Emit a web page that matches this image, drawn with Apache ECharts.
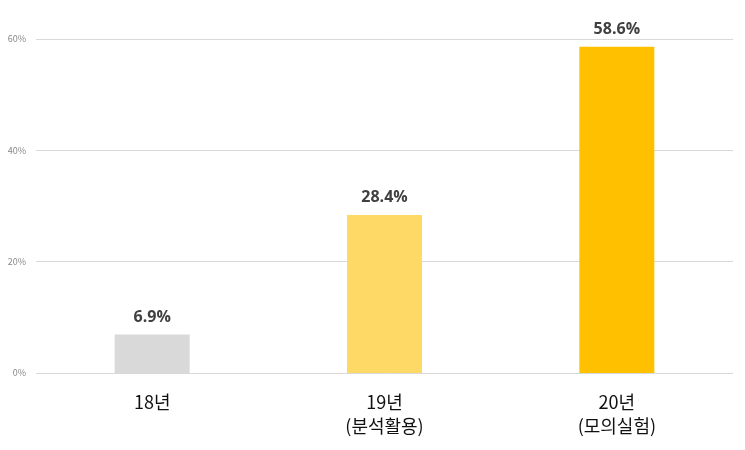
<!DOCTYPE html>
<html>
<head>
<meta charset="utf-8">
<script src="https://cdn.jsdelivr.net/npm/echarts@6/dist/echarts.min.js"></script>
<style>
html, body { margin: 0; padding: 0; background: #fff; }
#chart { width: 745px; height: 450px; }
</style>
</head>
<body>
<div id="chart"></div>
<script>
var categories = ['18년', '19년\n(분석활용)', '20년\n(모의실험)'];
var values = [6.9, 28.4, 58.6];
var barColors = ['#d9d9d9', '#ffd966', '#ffc000'];
var yTicks = [0, 20, 40, 60];

var chart = echarts.init(document.getElementById('chart'));

var data = [];
for (var i = 0; i < values.length; i++) {
    data.push({value: values[i], itemStyle: {color: barColors[i]}});
}

chart.setOption({
    animation: false,
    textStyle: {fontFamily: '"Noto Sans CJK KR", "Noto Sans", sans-serif'},
    grid: {left: 36, right: 12, top: 39, bottom: 77},
    xAxis: {
        type: 'category',
        data: categories,
        axisLine: {show: false},
        axisTick: {show: false},
        axisLabel: {
            color: '#111',
            fontSize: 18,
            lineHeight: 24,
            margin: 17
        }
    },
    yAxis: {
        type: 'value',
        min: yTicks[0],
        max: yTicks[yTicks.length - 1],
        interval: 20,
        axisLine: {show: false},
        axisTick: {show: false},
        axisLabel: {
            color: '#888',
            fontSize: 9,
            margin: 10,
            formatter: '{value}%'
        },
        splitLine: {lineStyle: {color: '#d9d9d9', width: 1}}
    },
    series: [{
        type: 'bar',
        data: data,
        barWidth: 75,
        label: {
            show: true,
            position: 'top',
            distance: 9,
            color: '#404040',
            fontSize: 16,
            fontWeight: 'bold',
            fontFamily: '"Open Sans", "Noto Sans", sans-serif',
            formatter: function (p) { return p.value.toFixed(1) + '%'; }
        }
    }]
});
</script>
</body>
</html>
